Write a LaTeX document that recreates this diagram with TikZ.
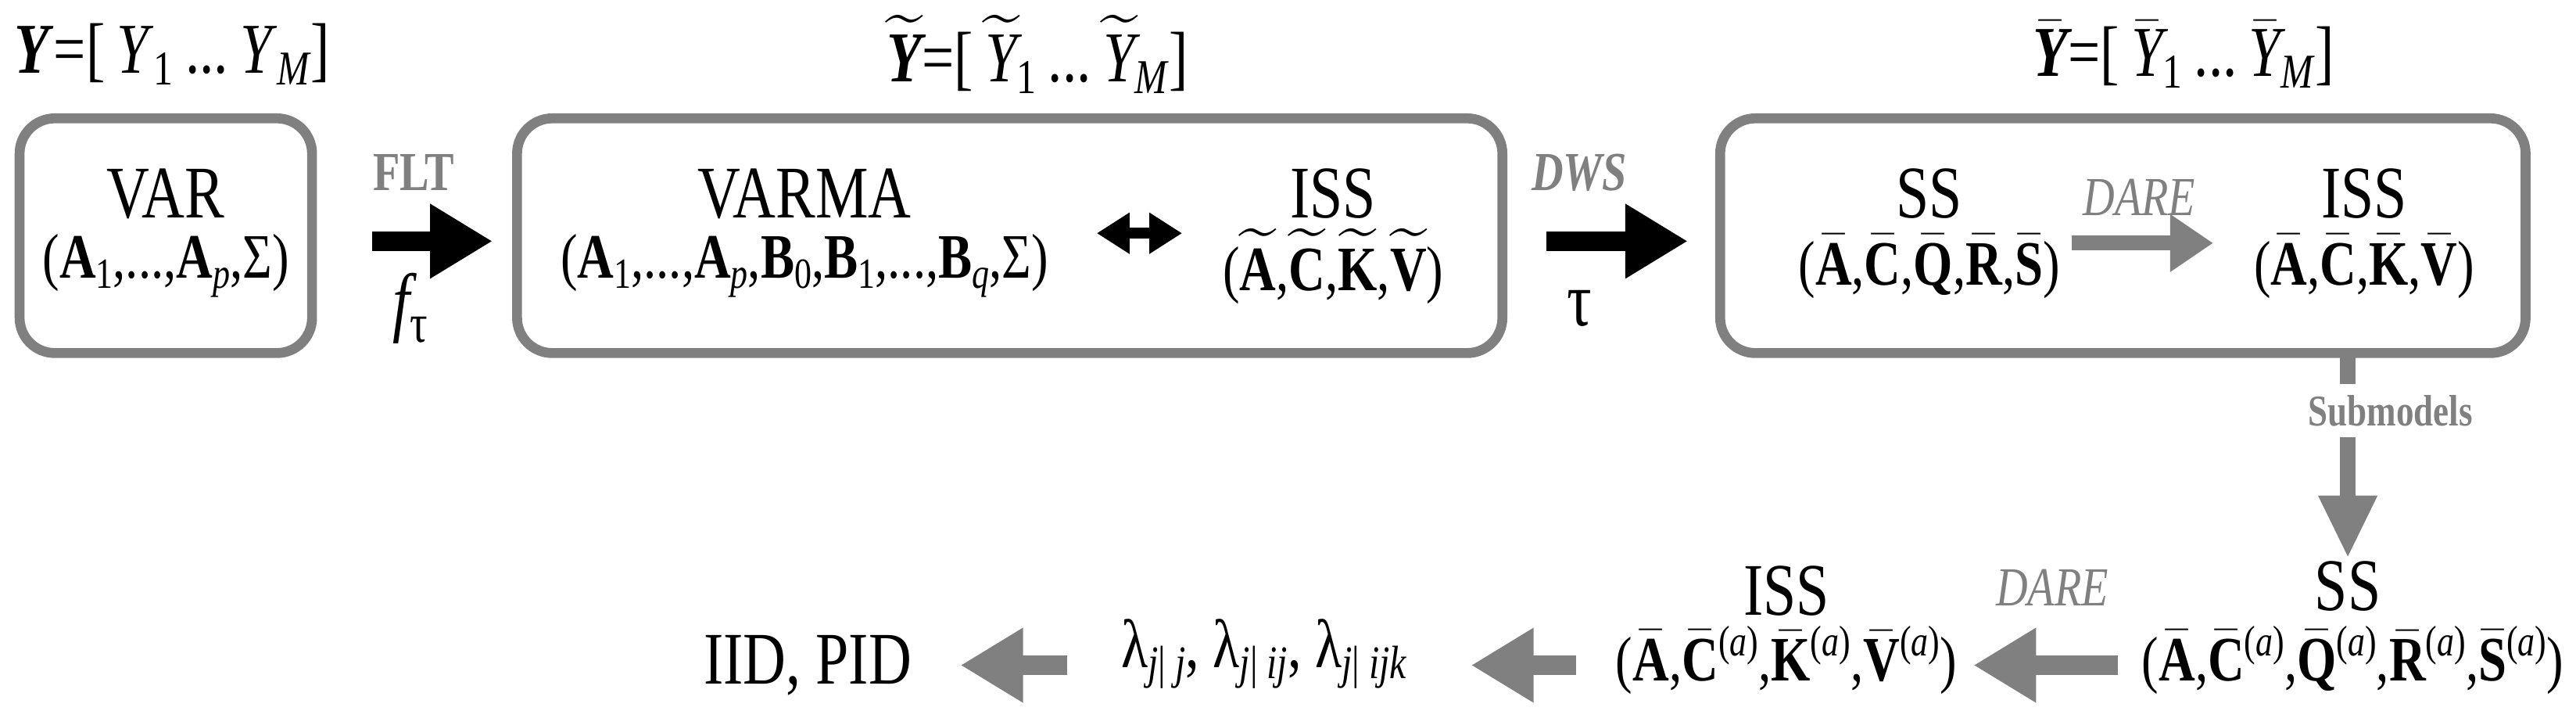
\documentclass[tikz,border=0pt]{standalone}
\usepackage{fontspec}
\setmainfont{Liberation Serif}[FakeStretch=0.8]
\usepackage{amsmath}
\usetikzlibrary{arrows.meta,positioning}
\definecolor{gr}{RGB}{128,128,128}
\newcommand\bm[1]{\text{\bfseries #1}}
\newcommand\ti[1]{\text{\itshape #1}}
\newcommand\sbs[1]{\raisebox{-0.35ex}{\scalebox{0.68}{#1}}}
\newcommand\sps[1]{\raisebox{0.85ex}{\scalebox{0.68}{(\textit{#1})}}}
\begin{document}
\begin{tikzpicture}[x=0.021cm,y=-0.021cm,
  box/.style={draw=gr,line width=3.6pt,rounded corners=0.45cm,inner sep=0pt},
  big/.style={font=\fontsize{27}{30}\selectfont,inner sep=1pt},
  par/.style={font=\fontsize{23}{24}\selectfont,inner sep=1pt},
  lab/.style={font=\fontsize{26}{28}\selectfont,inner sep=1pt},
  glab/.style={font=\fontsize{20}{22}\selectfont\bfseries,text=gr,inner sep=1pt},
  barrow/.style={line width=7pt,-{Triangle[length=0.8cm,width=0.9cm]}},
  garrow/.style={gr,line width=7pt,-{Triangle[length=0.8cm,width=0.9cm]}}]
\useasboundingbox (0,0) rectangle (1569,436.7);
% top labels
\node[lab] (ly) at (105,33) {\textbf{\textit{Y}}=[\,\textit{Y}\sbs{1}\,...\,\textit{Y}\sbs{\textit{M}}]};
\node[lab] (lyt) at (632,33) {$\widetilde{\bm{\itshape Y}}$=[\,$\widetilde{\ti{Y}}$\sbs{1}\,...\,$\widetilde{\ti{Y}}$\sbs{\textit{M}}]};
\node[lab] (lyb) at (1330,33) {$\bar{\bm{\itshape Y}}$=[\,$\bar{\ti{Y}}$\sbs{1}\,...\,$\bar{\ti{Y}}$\sbs{\textit{M}}]};
% boxes
\node[box,minimum width=3.74cm,minimum height=3.0cm] (b1) at (101,143.5) {};
\node[box,minimum width=12.6cm,minimum height=3.0cm] (b2) at (615,143.5) {};
\node[box,minimum width=10.3cm,minimum height=3.0cm] (b3) at (1293,143.5) {};
% box 1
\node[big] (var) at (101,118) {VAR};
\node[par] (varp) at (101,162) {(\textbf{A}\sbs{1},...,\textbf{A}\sbs{\textit{p}},Σ)};
% box 2
\node[big] (varma) at (490,118) {VARMA};
\node[par] (varmap) at (490,162) {(\textbf{A}\sbs{1},...,\textbf{A}\sbs{\textit{p}},\textbf{B}\sbs{0},\textbf{B}\sbs{1},...,\textbf{B}\sbs{\textit{q}},Σ)};
\node[big] (iss1) at (812,118) {ISS};
\node[par] (iss1p) at (812,162) {($\widetilde{\bm{A}}$,$\widetilde{\bm{C}}$,$\widetilde{\bm{K}}$,$\widetilde{\bm{V}}$)};
\coordinate (d1) at (668,142);
\coordinate (d2) at (720,142);
\draw[line width=4pt,{Triangle[length=0.42cm,width=0.5cm]}-{Triangle[length=0.42cm,width=0.5cm]}] (d1) -- (d2);
% box 3
\node[big] (ss1) at (1175,118) {SS};
\node[par] (ss1p) at (1175,162) {($\bar{\bm{A}}$,$\bar{\bm{C}}$,$\bar{\bm{Q}}$,$\bar{\bm{R}}$,$\bar{\bm{S}}$)};
\node[big] (iss2) at (1440,118) {ISS};
\node[par] (iss2p) at (1440,162) {($\bar{\bm{A}}$,$\bar{\bm{C}}$,$\bar{\bm{K}}$,$\bar{\bm{V}}$)};
\node[glab,font=\fontsize{20}{22}\selectfont\itshape] (dare1) at (1303,120) {DARE};
\coordinate (c1) at (1262,148);
\coordinate (c2) at (1348,148);
\draw[gr,line width=5.5pt,-{Triangle[length=0.55cm,width=0.7cm]}] (c1) -- (c2);
% between boxes
\node[glab] (flt) at (252,105) {FLT};
\node[font=\fontsize{28}{30}\selectfont\itshape] (ft) at (250,188) {f\raisebox{-0.4ex}{\normalfont\fontsize{20}{20}\selectfont τ}};
\draw[barrow] ([xshift=0.7cm,yshift=-0.07cm]b1.east) -- ([xshift=-0.25cm,yshift=-0.07cm]b2.west);
\node[glab,font=\fontsize{20}{22}\selectfont\bfseries\itshape] (dws) at (962,105) {DWS};
\node[font=\fontsize{28}{30}\selectfont] (tau) at (962,188) {τ};
\draw[barrow] ([xshift=0.5cm,yshift=-0.07cm]b2.east) -- ([xshift=-0.35cm,yshift=-0.07cm]b3.west);
% submodels
\coordinate (s0) at (1430,215);
\node[glab,font=\fontsize{16}{18}\selectfont\bfseries] (sub) at (1456,250) {Submodels};
\coordinate (s1) at (1430,234);
\coordinate (s2) at (1430,266);
\draw[gr,line width=5.5pt] (s0) -- (s1);
\node[big] (ss2) at (1430,357) {SS};
\node[par] (ss2p) at (1433,402) {($\bar{\bm{A}}$,$\bar{\bm{C}}$\sps{a},$\bar{\bm{Q}}$\sps{a},$\bar{\bm{R}}$\sps{a},$\bar{\bm{S}}$\sps{a})};
\draw[gr,line width=5.5pt,-{Triangle[length=0.8cm,width=0.7cm]}] (s2) -- (ss2.north);
% bottom row
\node[big] (iss3) at (1088,360) {ISS};
\node[par] (iss3p) at (1088,402) {($\bar{\bm{A}}$,$\bar{\bm{C}}$\sps{a},$\bar{\bm{K}}$\sps{a},$\bar{\bm{V}}$\sps{a})};
\node[glab,font=\fontsize{20}{22}\selectfont\itshape] (dare2) at (1250,358) {DARE};
\node[font=\fontsize{25}{26}\selectfont,inner sep=1pt] (lam) at (770,398) {λ\sbs{\textit{j}| \textit{j}}, λ\sbs{\textit{j}| \textit{ij}}, λ\sbs{\textit{j}| \textit{ijk}}};
\node[big] (iid) at (492,405) {IID, PID};
\coordinate (e1) at (1290,405); \coordinate (e2) at (1202,405);
\coordinate (e3) at (960,405);  \coordinate (e4) at (896,405);
\coordinate (e5) at (650,405);  \coordinate (e6) at (585,405);
\draw[garrow] (e1) -- (e2);
\draw[garrow] (e3) -- (e4);
\draw[garrow] (e5) -- (e6);
\end{tikzpicture}
\end{document}
